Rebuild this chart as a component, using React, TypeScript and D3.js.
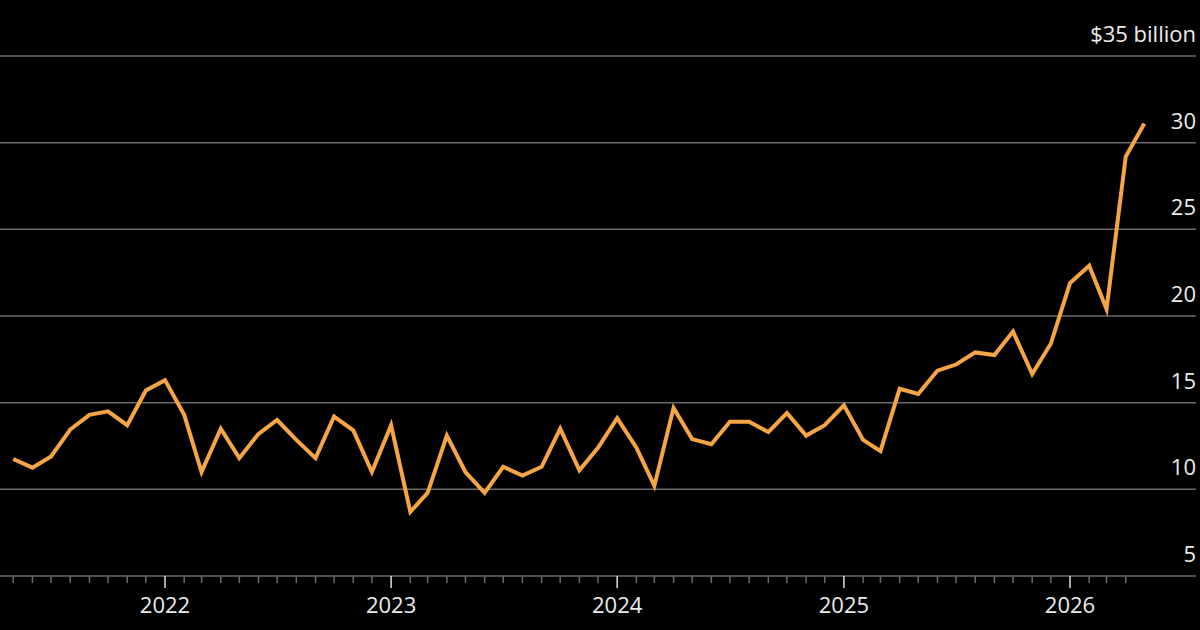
import React, { useEffect, useRef } from 'react';
import * as d3 from 'd3';

// Monthly values, May 2021 through May 2026 ($ billion)
const firstMonth = new Date(2021, 4, 1);
const values = [
	11.75, 11.25, 11.9, 13.45, 14.3, 14.5, 13.7, 15.7, 16.3, 14.3, 11.0, 13.5,
	11.8, 13.2, 14.0, 12.85, 11.8, 14.2, 13.4, 11.0, 13.7, 8.7, 9.8, 13.1, 11.0,
	9.8, 11.3, 10.8, 11.3, 13.5, 11.1, 12.4, 14.1, 12.4, 10.2, 14.7, 12.9, 12.6,
	13.9, 13.9, 13.3, 14.4, 13.1, 13.7, 14.85, 12.85, 12.2, 15.8, 15.5, 16.85,
	17.2, 17.9, 17.75, 19.1, 16.65, 18.4, 21.9, 22.9, 20.4, 29.2, 31.1,
];
const months = values.map((_, i) => d3.timeMonth.offset(firstMonth, i));

const yTicks = [5, 10, 15, 20, 25, 30, 35];
const yearTicks = [2022, 2023, 2024, 2025, 2026];

const width = 1200;
const height = 630;
const font = '"Open Sans", "DejaVu Sans", sans-serif';

const App: React.FC = () => {
	const ref = useRef<SVGSVGElement>(null);

	useEffect(() => {
		if (!ref.current) return;
		const svg = d3.select(ref.current);
		svg.selectAll('*').remove();

		// 2022-01 -> 2026-01 sits between x=165 and x=1070
		const x = d3
			.scaleTime()
			.domain([new Date(2022, 0, 1), new Date(2026, 0, 1)])
			.range([165, 1070]);
		const y = d3.scaleLinear().domain([5, 35]).range([576, 56]);

		svg.append('rect').attr('width', width).attr('height', height).attr('fill', '#000');

		// gridlines + right-hand labels
		const grid = svg.append('g');
		grid
			.selectAll('line')
			.data(yTicks)
			.enter()
			.append('line')
			.attr('x1', 0)
			.attr('x2', 1196)
			.attr('y1', (d) => y(d))
			.attr('y2', (d) => y(d))
			.attr('stroke', '#6b6b6b')
			.attr('stroke-width', 1.5);

		grid
			.selectAll('text')
			.data(yTicks)
			.enter()
			.append('text')
			.attr('x', 1196)
			.attr('y', (d) => y(d) - 14)
			.attr('text-anchor', 'end')
			.attr('font-family', font)
			.attr('font-size', '22px')
			.attr('fill', '#ececec')
			.text((d) => (d === 35 ? `$${d} billion` : `${d}`));

		// month ticks along the baseline
		const monthTicks = d3.timeMonth.range(new Date(2021, 4, 1), new Date(2026, 4, 1));
		svg
			.append('g')
			.selectAll('line')
			.data(monthTicks.filter((d) => d.getMonth() !== 0))
			.enter()
			.append('line')
			.attr('x1', (d) => x(d))
			.attr('x2', (d) => x(d))
			.attr('y1', 576)
			.attr('y2', 583)
			.attr('stroke', '#6b6b6b')
			.attr('stroke-width', 1.5);

		const years = svg.append('g');
		years
			.selectAll('line')
			.data(yearTicks)
			.enter()
			.append('line')
			.attr('x1', (d) => x(new Date(d, 0, 1)))
			.attr('x2', (d) => x(new Date(d, 0, 1)))
			.attr('y1', 576)
			.attr('y2', 588)
			.attr('stroke', '#e0e0e0')
			.attr('stroke-width', 1.5);
		years
			.selectAll('text')
			.data(yearTicks)
			.enter()
			.append('text')
			.attr('x', (d) => x(new Date(d, 0, 1)))
			.attr('y', 613)
			.attr('text-anchor', 'middle')
			.attr('font-family', font)
			.attr('font-size', '22px')
			.attr('fill', '#ececec')
			.text((d) => d);

		// the series
		const line = d3
			.line<number>()
			.x((_, i) => x(months[i]))
			.y((d) => y(d));

		svg
			.append('path')
			.datum(values)
			.attr('d', line)
			.attr('fill', 'none')
			.attr('stroke', '#f5a543')
			.attr('stroke-width', 4)
			.attr('stroke-linejoin', 'miter')
			.attr('stroke-linecap', 'butt');
	}, []);

	return (
		<div style={{ position: 'fixed', left: 0, top: 0, width, height, background: '#000' }}>
			<svg ref={ref} width={width} height={height} style={{ display: 'block' }}></svg>
		</div>
	);
};

export default App;
